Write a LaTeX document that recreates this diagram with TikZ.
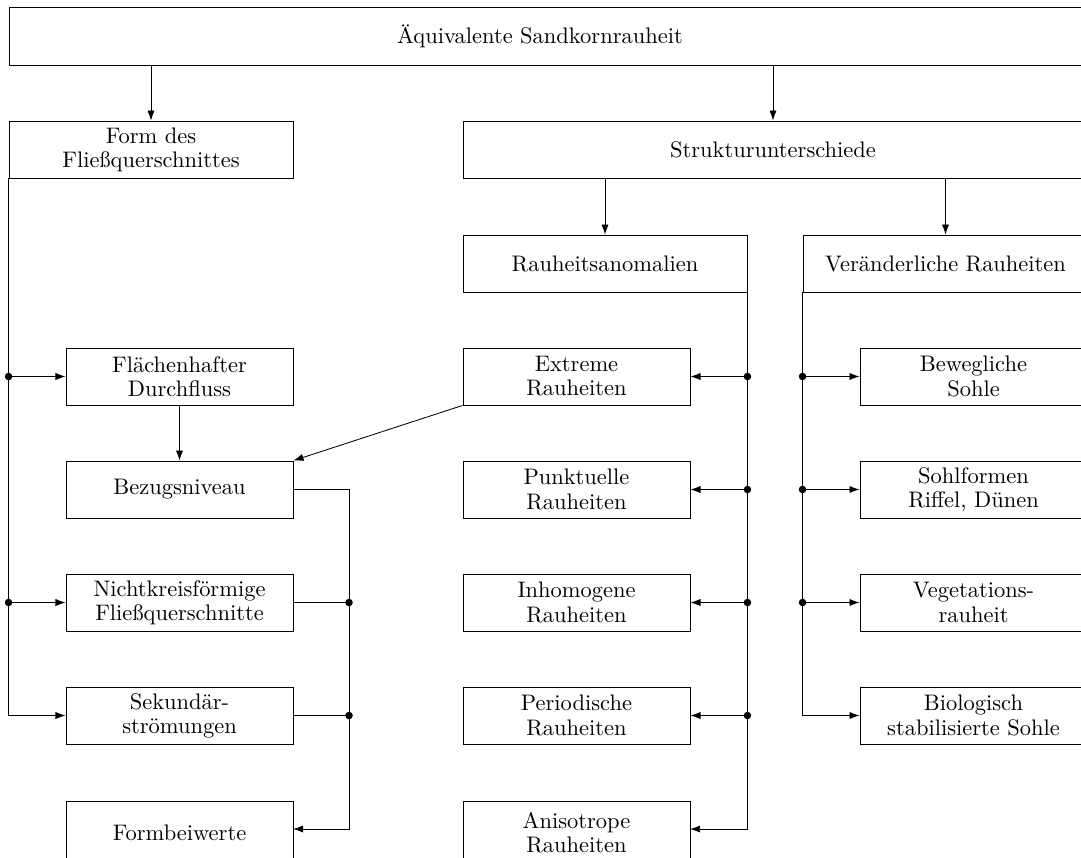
\documentclass[tikz,border=0pt]{standalone}
\usetikzlibrary{arrows.meta}
\begin{document}
\begin{tikzpicture}[x=0.476pt,y=-0.476pt,
  font=\fontsize{10.7}{11.5}\selectfont,
  box/.style={draw, line width=0.4pt, inner sep=0pt, align=center, minimum height=27.13pt},
  sbox/.style={box, minimum width=108.05pt},
  cutbox/.style={sbox, minimum height=30pt},
  arr/.style={line width=0.4pt, -{Latex[length=4.8pt,width=3.4pt]}},
  ln/.style={line width=0.4pt},
  dot/.style={circle, fill, inner sep=0pt, minimum size=3.6pt}]
\useasboundingbox (0,0) rectangle (1081,857);
\clip (0,0) rectangle (1081,857);
% top
\node[box, minimum width=514.6pt, minimum height=27.6pt] (topbox) at (549.5,36) {};
\node (toptext) at (540,36) {Äquivalente Sandkornrauheit};
% level 2
\node[box, minimum width=135.2pt] (form) at (151,149.5) {Form des\\Fließquerschnittes};
\node[box, minimum width=295.1pt] (struk) at (773,149.5) {Strukturunterschiede};
% level 3
\node[box, minimum width=135.2pt] (rauh) at (605,263.5) {Rauheitsanomalien};
\node[box, minimum width=135.7pt] (ver) at (945.5,263.5) {Veränderliche Rauheiten};
% left column
\node[sbox] (flae) at (179.5,376.5) {Flächenhafter\\Durchfluss};
\node[sbox] (bez) at (179.5,489.5) {Bezugsniveau};
\node[sbox] (nicht) at (179.5,602.5) {Nichtkreisförmige\\Fließquerschnitte};
\node[sbox] (sek) at (179.5,715.5) {Sekundär-\\strömungen};
\node[cutbox] (formb) at (179.5,832.5) {Formbeiwerte};
% middle column
\node[sbox] (ext) at (576.5,376.5) {Extreme\\Rauheiten};
\node[sbox] (punk) at (576.5,489.5) {Punktuelle\\Rauheiten};
\node[sbox] (inh) at (576.5,602.5) {Inhomogene\\Rauheiten};
\node[sbox] (per) at (576.5,715.5) {Periodische\\Rauheiten};
\node[cutbox] (ani) at (576.5,832.5) {Anisotrope\\Rauheiten};
% right column
\node[sbox] (bew) at (973.5,376.5) {Bewegliche\\Sohle};
\node[sbox] (sohl) at (973.5,489.5) {Sohlformen\\Riffel, Dünen};
\node[sbox] (veg) at (973.5,602.5) {Vegetations-\\rauheit};
\node[sbox] (bio) at (973.5,715.5) {Biologisch\\stabilisierte Sohle};
% top connectors
\draw[arr] (form.north |- topbox.south) -- (form.north);
\draw[arr] (struk.north |- topbox.south) -- (struk.north);
\draw[arr] (rauh.north |- struk.south) -- (rauh.north);
\draw[arr] (ver.north |- struk.south) -- (ver.north);
% left bus
\draw[arr] (form.south west) |- (sek.west);
\node[dot] (d1) at (form.south west |- flae.west) {};
\node[dot] (d2) at (form.south west |- nicht.west) {};
\draw[arr] (d1.center) -- (flae.west);
\draw[arr] (d2.center) -- (nicht.west);
\draw[arr] (flae.south) -- (bez.north);
% Bezugsniveau bus
\coordinate (bb) at (349,489.5);
\coordinate (fb) at (293,829);
\draw[arr] (bez.east) -- (bb) |- (fb);
\node[dot] (d3) at (bb |- nicht.east) {};
\node[dot] (d4) at (bb |- sek.east) {};
\draw[ln] (nicht.east) -- (d3.center);
\draw[ln] (sek.east) -- (d4.center);
% extreme -> bezugsniveau
\draw[arr] (ext.south west) -- (bez.north east);
% middle bus
\coordinate (ab) at (690,829);
\draw[arr] (rauh.south east) |- (ab);
\foreach \n [count=\i] in {ext,punk,inh,per}{
  \node[dot] (m\i) at (rauh.south east |- \n.east) {};
  \draw[arr] (m\i.center) -- (\n.east);
}
% right bus
\draw[arr] (ver.south west) |- (bio.west);
\foreach \n [count=\i] in {bew,sohl,veg}{
  \node[dot] (r\i) at (ver.south west |- \n.west) {};
  \draw[arr] (r\i.center) -- (\n.west);
}
\end{tikzpicture}
\end{document}
